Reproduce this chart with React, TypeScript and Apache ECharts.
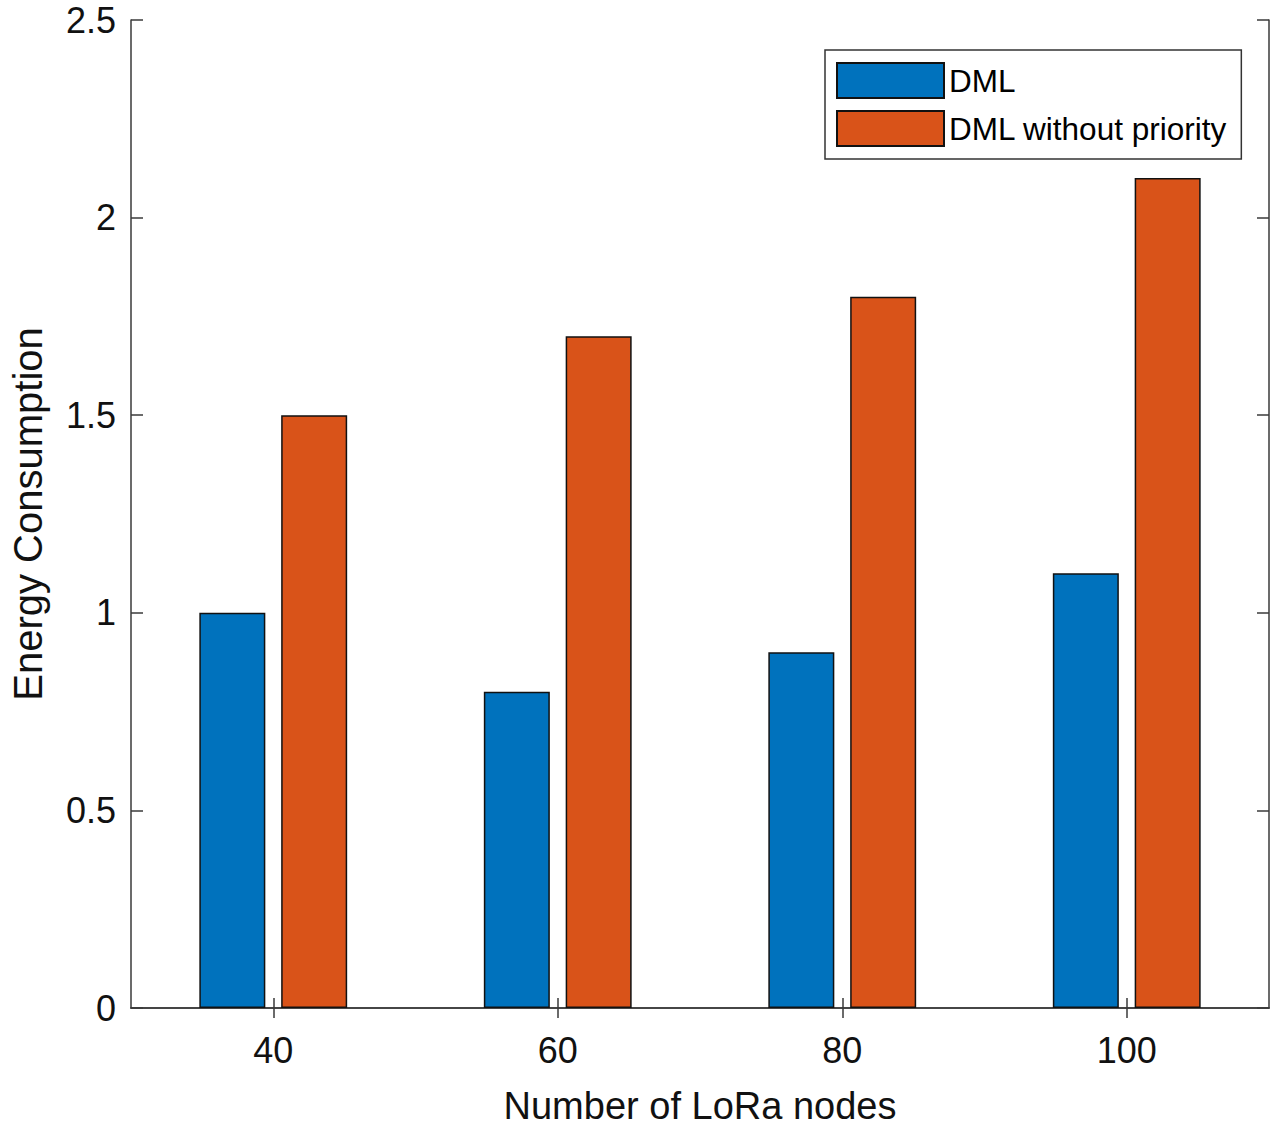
import React, { useEffect, useRef } from 'react';
import * as echarts from 'echarts';

const nodeCounts = ['40', '60', '80', '100'];
const dmlValues = [1.0, 0.8, 0.9, 1.1];
const noPriorityValues = [1.5, 1.7, 1.8, 2.1];

const FONT = '"Liberation Sans", Arial, Helvetica, sans-serif';
const AXIS_COLOR = '#3a3a3a';

const App: React.FC = () => {
  const chartRef = useRef<HTMLDivElement>(null);

  useEffect(() => {
    document.body.style.margin = '0';
    if (!chartRef.current) return;
    const chart = echarts.init(chartRef.current, undefined, { renderer: 'svg' });

    const axisLine = { show: true, lineStyle: { color: AXIS_COLOR, width: 1.5 } };
    const tickStyle = { color: AXIS_COLOR, width: 1.5 };

    const option: echarts.EChartsOption = {
      animation: false,
      backgroundColor: '#ffffff',
      textStyle: { fontFamily: FONT },
      grid: { left: 124, right: 11, top: 20, bottom: 119 },
      legend: {
        orient: 'vertical',
        left: 825,
        top: 50,
        padding: [12, 14, 12, 11],
        itemWidth: 107,
        itemHeight: 35,
        itemGap: 11,
        backgroundColor: '#ffffff',
        borderColor: '#333',
        borderWidth: 1.5,
        textStyle: { fontSize: 31.5, color: '#000', fontFamily: FONT, padding: [0, 0, 0, 0] },
        icon: 'rect',
        data: ['DML', 'DML without priority']
      },
      xAxis: [
        {
          type: 'category',
          data: nodeCounts,
          position: 'bottom',
          axisLine,
          axisTick: { show: true, inside: true, alignWithLabel: true, length: 10, lineStyle: tickStyle },
          axisLabel: { fontSize: 36, color: '#111', margin: 24, fontFamily: FONT },
          name: 'Number of LoRa nodes',
          nameLocation: 'middle',
          nameGap: 79,
          nameTextStyle: { fontSize: 38, color: '#111', fontFamily: FONT }
        },
        {
          type: 'category',
          data: nodeCounts,
          position: 'top',
          axisLine,
          axisTick: { show: true, inside: true, alignWithLabel: true, length: 10, lineStyle: tickStyle },
          axisLabel: { show: false }
        }
      ],
      yAxis: [
        {
          type: 'value',
          min: 0,
          max: 2.5,
          interval: 0.5,
          position: 'left',
          axisLine,
          axisTick: { show: true, inside: true, length: 12, lineStyle: tickStyle },
          splitLine: { show: false },
          axisLabel: { fontSize: 36, color: '#111', margin: 15, fontFamily: FONT },
          name: 'Energy Consumption',
          nameLocation: 'middle',
          nameGap: 83,
          nameTextStyle: { fontSize: 40, color: '#111', fontFamily: FONT }
        },
        {
          type: 'value',
          min: 0,
          max: 2.5,
          interval: 0.5,
          position: 'right',
          axisLine,
          axisTick: { show: true, inside: true, length: 12, lineStyle: tickStyle },
          splitLine: { show: false },
          axisLabel: { show: false }
        }
      ],
      series: [
        {
          name: 'DML',
          type: 'bar',
          data: dmlValues,
          barWidth: 66,
          barGap: '24%',
          itemStyle: { color: '#0072BD', borderColor: '#111', borderWidth: 1.5 }
        },
        {
          name: 'DML without priority',
          type: 'bar',
          data: noPriorityValues,
          barWidth: 66,
          barGap: '24%',
          itemStyle: { color: '#D95319', borderColor: '#111', borderWidth: 1.5 }
        }
      ]
    };

    chart.setOption(option);
    return () => {
      chart.dispose();
    };
  }, []);

  return <div ref={chartRef} style={{ width: '1280px', height: '1130px' }} />;
};

export default App;
